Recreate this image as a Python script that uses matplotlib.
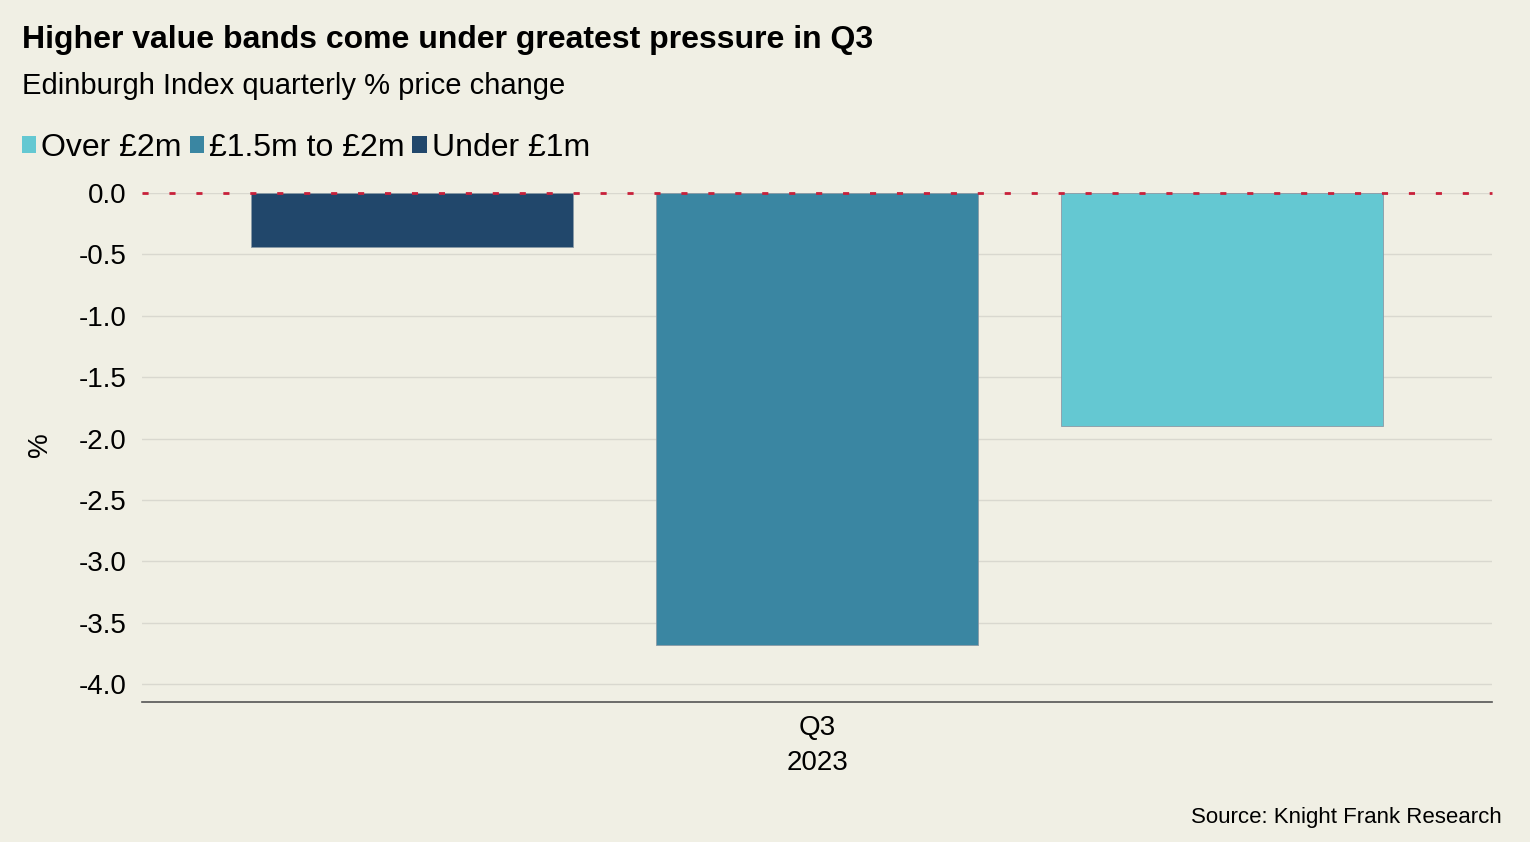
import numpy as np
import matplotlib
matplotlib.use('Agg')
from matplotlib import pyplot as plt
from matplotlib.patches import Patch

plt.rcParams['font.family'] = ['Liberation Sans', 'DejaVu Sans']

# data
period = 'Q3\n2023'
bands = ['Under £1m', '£1.5m to £2m', 'Over £2m']
changes = [-0.44, -3.68, -1.90]
colours = ['#21476B', '#3A86A2', '#64C8D2']
legend_order = ['Over £2m', '£1.5m to £2m', 'Under £1m']

bg = '#F0EFE4'
fig = plt.figure(figsize=(15.3, 8.42), dpi=100, facecolor=bg)
ax = fig.add_axes([142/1530, 1 - 702/842, 1350/1530, (702-193)/842])
ax.set_facecolor(bg)

offsets = [-0.3, 0.0, 0.3]
for off, val, col in zip(offsets, changes, colours):
    ax.bar(off, val, width=0.239, color=col, edgecolor='#8a9aa6', linewidth=0.6, zorder=3)

ax.set_xlim(-0.5, 0.5)
ax.set_ylim(-4.145, 0.0)
ax.set_yticks(np.arange(-4.0, 0.01, 0.5))
ax.set_yticklabels(['%.1f' % v for v in np.arange(-4.0, 0.01, 0.5)], fontsize=20)
ax.set_xticks([0])
ax.set_xticklabels([period], fontsize=20, linespacing=1.5)
ax.tick_params(axis='x', length=0, pad=9)
ax.tick_params(axis='y', length=0, pad=11)
ax.grid(axis='y', color='#d9d8cf', linewidth=1, zorder=0)
ax.axhline(0, color='#C8203A', linestyle=(0, (2.2, 7.5)), linewidth=2, zorder=4, clip_on=False)
for s in ['top', 'right', 'left']:
    ax.spines[s].set_visible(False)
ax.spines['bottom'].set_color('#555555')
ax.spines['bottom'].set_linewidth(1.2)

fig.text(40/1530, 1 - 445/842, '%', rotation=90, fontsize=20, ha='center', va='center')

fig.text(22/1530, 1 - 40/842, 'Higher value bands come under greatest pressure in Q3',
         fontsize=23, fontweight='bold', va='center')
fig.text(22/1530, 1 - 86/842, 'Edinburgh Index quarterly % price change', fontsize=21, va='center')
fig.text(1502/1530, 1 - 817/842, 'Source: Knight Frank Research', fontsize=16, ha='right', va='center')

handles = [Patch(facecolor=colours[bands.index(b)], label=b) for b in legend_order]
fig.legend(handles=handles, loc='center left', bbox_to_anchor=(22/1530, 1 - 148/842),
           ncol=3, frameon=False, fontsize=23, handlelength=0.45, handleheight=0.45,
           handletextpad=0.15, columnspacing=0.25, borderpad=0, borderaxespad=0)

fig.savefig('out.png', dpi=100, facecolor=bg)
